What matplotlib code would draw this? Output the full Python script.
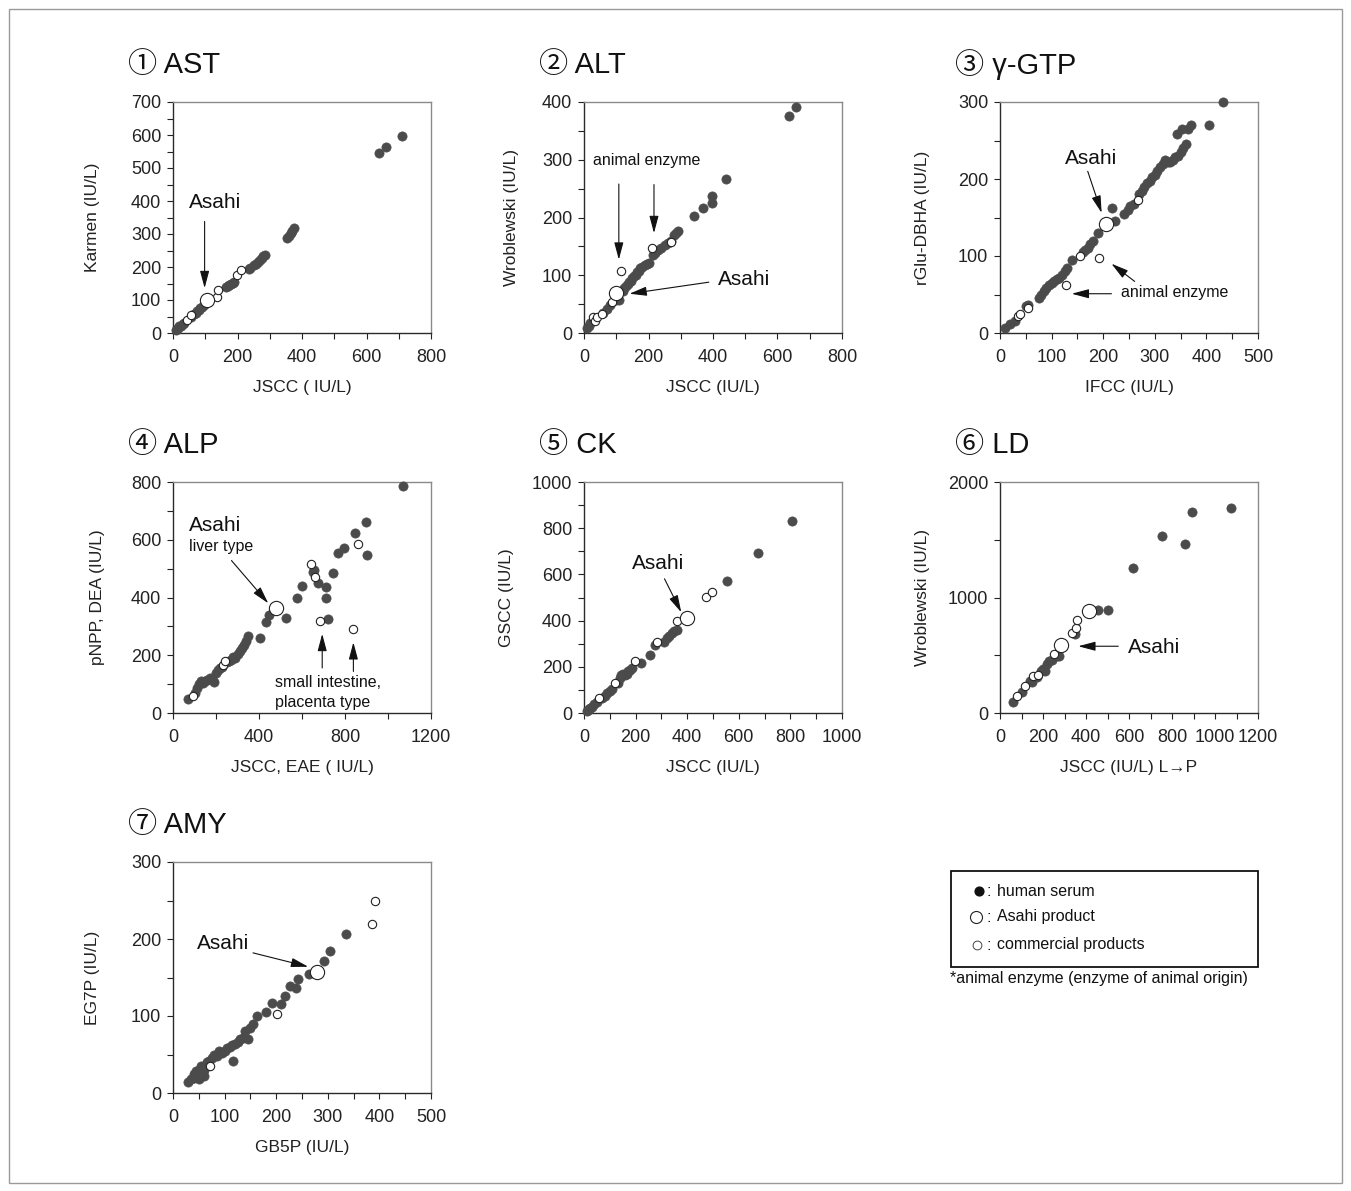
import matplotlib
matplotlib.use('Agg')
import matplotlib.pyplot as plt
from matplotlib.patches import Rectangle
import numpy as np

plt.rcParams['font.family'] = ['Liberation Sans', 'Noto Sans CJK JP', 'DejaVu Sans']

# ---------------- data ----------------
# 1 AST
ast_hs_x = [8, 12, 15, 20, 25, 30, 35, 55, 65, 70, 75, 80, 85, 90, 95, 165, 170, 175, 180, 185, 190,
            235, 240, 250, 258, 265, 270, 275, 280, 285, 355, 360, 365, 370, 375, 640, 662, 710]
ast_hs_y = [8, 12, 15, 20, 22, 28, 30, 50, 58, 62, 66, 70, 75, 80, 85, 138, 142, 145, 148, 152, 155,
            195, 198, 205, 210, 215, 222, 228, 233, 235, 288, 295, 303, 310, 318, 545, 565, 598]
ast_com_x = [42, 57, 135, 140, 197, 212]
ast_com_y = [40, 55, 109, 129, 177, 192]
ast_asahi_x = [105]
ast_asahi_y = [101]

# 2 ALT
alt_hs_x = [10, 15, 20, 30, 60, 70, 80, 100, 110, 120, 125, 130, 135, 140, 145, 150, 155, 160, 165, 170,
            175, 180, 190, 195, 200, 215, 220, 230, 240, 250, 260, 270, 280, 285, 290, 340, 368, 397,
            397, 441, 635, 657]
alt_hs_y = [8, 12, 18, 25, 35, 42, 48, 58, 58, 72, 78, 82, 85, 88, 90, 95, 98, 100, 105, 108,
            112, 115, 118, 120, 122, 135, 138, 143, 148, 152, 155, 160, 170, 173, 176, 202, 216, 225,
            237, 266, 376, 391]
alt_com_x = [28, 33, 40, 56, 87, 116, 212, 269]
alt_com_y = [28, 20, 28, 33, 53, 107, 147, 158]
alt_asahi_x = [98]
alt_asahi_y = [69]

# 3 gamma-GTP
gtp_hs_x = [10, 20, 30, 50, 55, 75, 80, 85, 90, 95, 100, 105, 110, 115, 120, 125, 130, 140, 160, 165,
            170, 175, 180, 190, 218, 222, 240, 248, 252, 260, 270, 275, 280, 285, 290, 295, 300, 305,
            310, 315, 320, 325, 330, 335, 340, 345, 350, 355, 360, 343, 352, 365, 370, 405, 432]
gtp_hs_y = [6, 12, 16, 35, 37, 45, 50, 55, 58, 62, 65, 68, 70, 72, 75, 80, 85, 95, 105, 108,
            110, 115, 120, 130, 162, 145, 155, 160, 165, 168, 180, 185, 190, 195, 198, 202, 205, 210,
            215, 220, 225, 222, 222, 225, 228, 230, 235, 240, 245, 259, 265, 265, 270, 270, 300]
gtp_com_x = [34, 39, 54, 128, 155, 192, 268]
gtp_com_y = [22, 25, 33, 62, 100, 98, 173]
gtp_asahi_x = [205]
gtp_asahi_y = [141]

# 4 ALP
alp_hs_x = [70, 100, 110, 120, 130, 140, 150, 160, 170, 180, 190, 200, 210, 220, 230, 250, 260, 270,
            280, 290, 300, 310, 320, 330, 340, 350, 404, 432, 447, 525, 575, 601, 649, 655, 675, 710,
            710, 722, 742, 766, 797, 846, 898, 901, 1071]
alp_hs_y = [48, 70, 85, 100, 112, 105, 110, 115, 120, 118, 108, 140, 150, 155, 160, 175, 180, 185,
            195, 190, 205, 215, 225, 235, 250, 265, 260, 314, 338, 329, 398, 439, 488, 495, 450, 436,
            399, 324, 484, 555, 571, 623, 663, 546, 787]
alp_com_x = [93, 233, 240, 640, 660, 683, 839, 862]
alp_com_y = [59, 165, 181, 516, 470, 320, 291, 584]
alp_asahi_x = [481]
alp_asahi_y = [363]

# 5 CK
ck_hs_x = [10, 15, 20, 25, 30, 40, 50, 70, 80, 90, 100, 110, 130, 140, 145, 150, 160, 165, 170, 180,
           185, 222, 254, 274, 310, 320, 329, 340, 350, 360, 555, 675, 805]
ck_hs_y = [8, 12, 18, 22, 28, 38, 48, 65, 75, 85, 95, 105, 130, 150, 165, 170, 165, 170, 180, 185,
           195, 217, 253, 296, 306, 325, 335, 345, 355, 360, 571, 692, 832]
ck_com_x = [57, 119, 196, 284, 361, 474, 495]
ck_com_y = [64, 130, 224, 306, 397, 501, 523]
ck_asahi_x = [399]
ck_asahi_y = [410]

# 6 LD
ld_hs_x = [59, 101, 139, 150, 170, 190, 200, 209, 220, 229, 240, 265, 276, 351, 457, 503, 619, 754,
           862, 893, 1076]
ld_hs_y = [92, 185, 280, 270, 310, 360, 380, 367, 420, 448, 460, 490, 497, 685, 893, 893, 1257, 1529,
           1460, 1740, 1777]
ld_com_x = [77, 116, 152, 175, 252, 337, 353, 358]
ld_com_y = [145, 237, 324, 330, 512, 694, 737, 809]
ld_asahi_x = [282, 413]
ld_asahi_y = [592, 881]

# 7 AMY
amy_hs_x = [30, 35, 40, 40, 45, 45, 50, 50, 55, 55, 60, 60, 65, 70, 75, 80, 85, 90, 95, 100, 105, 110,
            115, 116, 120, 125, 130, 135, 140, 145, 150, 155, 163, 181, 192, 210, 217, 226, 239, 243,
            263, 292, 305, 336]
amy_hs_y = [14, 18, 20, 25, 28, 22, 18, 30, 25, 35, 30, 22, 40, 42, 45, 50, 48, 55, 52, 55, 58, 60,
            62, 42, 64, 66, 70, 72, 80, 70, 85, 90, 100, 105, 117, 115, 126, 139, 137, 148,
            155, 172, 184, 207]
amy_com_x = [71, 201, 385, 391]
amy_com_y = [35, 103, 220, 250]
amy_asahi_x = [280]
amy_asahi_y = [157]

titles = ['\u2460 AST', '\u2461 ALT', '\u2462 \u03b3-GTP', '\u2463 ALP', '\u2464 CK', '\u2465 LD', '\u2466 AMY']
xlabels = ['JSCC ( IU/L)', 'JSCC (IU/L)', 'IFCC (IU/L)', 'JSCC, EAE ( IU/L)', 'JSCC (IU/L)',
           'JSCC (IU/L) L\u2192P', 'GB5P (IU/L)']
ylabels = ['Karmen (IU/L)', 'Wroblewski (IU/L)', 'rGlu-DBHA (IU/L)', 'pNPP, DEA (IU/L)',
           'GSCC (IU/L)', 'Wroblewski (IU/L)', 'EG7P (IU/L)']
legend_labels = ['human serum', 'Asahi product', 'commercial products']
footnote = '*animal enzyme (enzyme of animal origin)'

# ---------------- figure ----------------
W, H = 1351, 1191
fig = plt.figure(figsize=(W / 100, H / 100), dpi=100)
fig.patches.append(Rectangle((9 / W, 8 / H), (W - 18) / W, (H - 17) / H, transform=fig.transFigure,
                             fill=False, edgecolor='#9a9a9a', lw=1.0))

AW, AH = 258, 231
cols = [173, 584, 1000]
rows = [102, 482, 862]

HS_C = '#4b4b4b'


def make_ax(col, row):
    l, t = cols[col], rows[row]
    return fig.add_axes([l / W, 1 - (t + AH) / H, AW / W, AH / H])


def style(ax, i, xlim, ylim, xmaj, xmin, ymaj, ymin, ylab_x):
    ax.set_xlim(*xlim)
    ax.set_ylim(*ylim)
    ax.set_xticks(np.arange(xlim[0], xlim[1] + 0.1, xmaj))
    ax.set_xticks(np.arange(xlim[0], xlim[1] + 0.1, xmin), minor=True)
    ax.set_yticks(np.arange(ylim[0], ylim[1] + 0.1, ymaj))
    ax.set_yticks(np.arange(ylim[0], ylim[1] + 0.1, ymin), minor=True)
    ax.tick_params(which='both', direction='out', length=4.5, width=0.8, color='#222',
                   labelsize=13, labelcolor='#222')
    ax.tick_params(axis='x', which='both', pad=7)
    ax.tick_params(axis='y', which='both', pad=4)
    for s in ['top', 'right']:
        ax.spines[s].set_color('#8a8a8a')
        ax.spines[s].set_linewidth(1.0)
    for s in ['left', 'bottom']:
        ax.spines[s].set_color('#2a2a2a')
        ax.spines[s].set_linewidth(1.0)
    ax.set_xlabel(xlabels[i], fontsize=12.5, color='#222')
    ax.set_ylabel(ylabels[i], fontsize=12.5, color='#222')
    ax.xaxis.set_label_coords(0.5, -0.205)
    ax.yaxis.set_label_coords(ylab_x, 0.5)
    bb = ax.get_position()
    fig.text(bb.x0 - 45 / W, bb.y1 + 37 / H, titles[i], fontsize=21, va='center', ha='left',
             color='#111')


def draw(ax, hx, hy, cx, cy, sx, sy):
    ax.scatter(hx, hy, s=44, c=HS_C, edgecolors=HS_C, linewidths=0.5, zorder=3, clip_on=False)
    ax.scatter(cx, cy, s=36, facecolors='white', edgecolors='#222', linewidths=0.8, zorder=4,
               clip_on=False)
    ax.scatter(sx, sy, s=105, facecolors='white', edgecolors='#222', linewidths=0.8, zorder=5,
               clip_on=False)


ARW = dict(arrowstyle='-|>,head_length=0.75,head_width=0.2', color='#111', lw=0.8,
           mutation_scale=14, shrinkA=0, shrinkB=0)


def arrow(ax, start, end):
    ax.annotate('', xy=end, xytext=start, arrowprops=ARW, zorder=6)


# 1 AST
ax = make_ax(0, 0)
draw(ax, ast_hs_x, ast_hs_y, ast_com_x, ast_com_y, ast_asahi_x, ast_asahi_y)
style(ax, 0, (0, 800), (0, 700), 200, 100, 100, 50, -0.283)
ax.text(129, 394, 'Asahi', fontsize=15, ha='center', va='center', color='#111')
arrow(ax, (98, 338), (98, 136))

# 2 ALT
ax = make_ax(1, 0)
draw(ax, alt_hs_x, alt_hs_y, alt_com_x, alt_com_y, alt_asahi_x, alt_asahi_y)
style(ax, 1, (0, 800), (0, 400), 200, 100, 100, 50, -0.252)
ax.text(193, 299, 'animal enzyme', fontsize=11.5, ha='center', va='center', color='#111')
arrow(ax, (108, 258), (108, 127))
arrow(ax, (217, 257), (217, 173))
ax.text(497, 92, 'Asahi', fontsize=15, ha='center', va='center', color='#111')
arrow(ax, (387, 88), (141, 68))

# 3 GTP
ax = make_ax(2, 0)
draw(ax, gtp_hs_x, gtp_hs_y, gtp_com_x, gtp_com_y, gtp_asahi_x, gtp_asahi_y)
style(ax, 2, (0, 500), (0, 300), 100, 50, 100, 50, -0.271)
ax.text(177, 226, 'Asahi', fontsize=15, ha='center', va='center', color='#111')
arrow(ax, (170, 210), (197, 156))
ax.text(339, 52, 'animal enzyme', fontsize=11.5, ha='center', va='center', color='#111')
arrow(ax, (216, 51), (139, 51))
arrow(ax, (261, 67), (216, 90))

# 4 ALP
ax = make_ax(0, 1)
draw(ax, alp_hs_x, alp_hs_y, alp_com_x, alp_com_y, alp_asahi_x, alp_asahi_y)
style(ax, 3, (0, 1200), (0, 800), 400, 200, 200, 100, -0.264)
ax.text(75, 650, 'Asahi', fontsize=15, ha='left', va='center', color='#111')
ax.text(75, 577, 'liver type', fontsize=11.5, ha='left', va='center', color='#111')
arrow(ax, (272, 528), (443, 380))
ax.text(474, 104, 'small intestine,', fontsize=11.5, ha='left', va='center', color='#111')
ax.text(474, 37, 'placenta type', fontsize=11.5, ha='left', va='center', color='#111')
arrow(ax, (694, 156), (694, 274))
arrow(ax, (839, 144), (839, 245))

# 5 CK
ax = make_ax(1, 1)
draw(ax, ck_hs_x, ck_hs_y, ck_com_x, ck_com_y, ck_asahi_x, ck_asahi_y)
style(ax, 4, (0, 1000), (0, 1000), 200, 100, 200, 100, -0.271)
ax.text(286, 649, 'Asahi', fontsize=15, ha='center', va='center', color='#111')
arrow(ax, (312, 581), (377, 436))

# 6 LD
ax = make_ax(2, 1)
draw(ax, ld_hs_x, ld_hs_y, ld_com_x, ld_com_y, ld_asahi_x, ld_asahi_y)
style(ax, 5, (0, 1200), (0, 2000), 200, 100, 1000, 500, -0.271)
ax.text(596, 569, 'Asahi', fontsize=15, ha='left', va='center', color='#111')
arrow(ax, (550, 578), (364, 578))

# 7 AMY
ax = make_ax(0, 2)
draw(ax, amy_hs_x, amy_hs_y, amy_com_x, amy_com_y, amy_asahi_x, amy_asahi_y)
style(ax, 6, (0, 500), (0, 300), 100, 50, 100, 50, -0.283)
ax.text(97, 194, 'Asahi', fontsize=15, ha='center', va='center', color='#111')
arrow(ax, (155, 182), (262, 164))

# ---------------- legend ----------------
lx0, ly0, lw_, lh_ = 951, 871, 307, 96
lax = fig.add_axes([lx0 / W, 1 - (ly0 + lh_) / H, lw_ / W, lh_ / H])
lax.set_xlim(0, lw_)
lax.set_ylim(lh_, 0)
lax.axis('off')
lax.add_patch(Rectangle((0, 0), lw_, lh_, fill=False, edgecolor='#111', lw=1.3, clip_on=False))
rows_y = [20, 46, 74]
lax.scatter([28], [rows_y[0]], s=40, c='#111', zorder=3, clip_on=False)
lax.scatter([25], [rows_y[1]], s=75, facecolors='white', edgecolors='#222', linewidths=0.8,
            zorder=3, clip_on=False)
lax.scatter([26], [rows_y[2]], s=40, facecolors='white', edgecolors='#444', linewidths=0.7,
            zorder=3, clip_on=False)
for yy, lab in zip(rows_y, legend_labels):
    lax.text(36, yy, ':', fontsize=11.5, va='center', ha='left', color='#111')
    lax.text(46, yy, lab, fontsize=11.5, va='center', ha='left', color='#111')
fig.text(950 / W, 1 - 978 / H, footnote, fontsize=11.5, va='center', ha='left', color='#111')

fig.savefig('out.png', dpi=100)
